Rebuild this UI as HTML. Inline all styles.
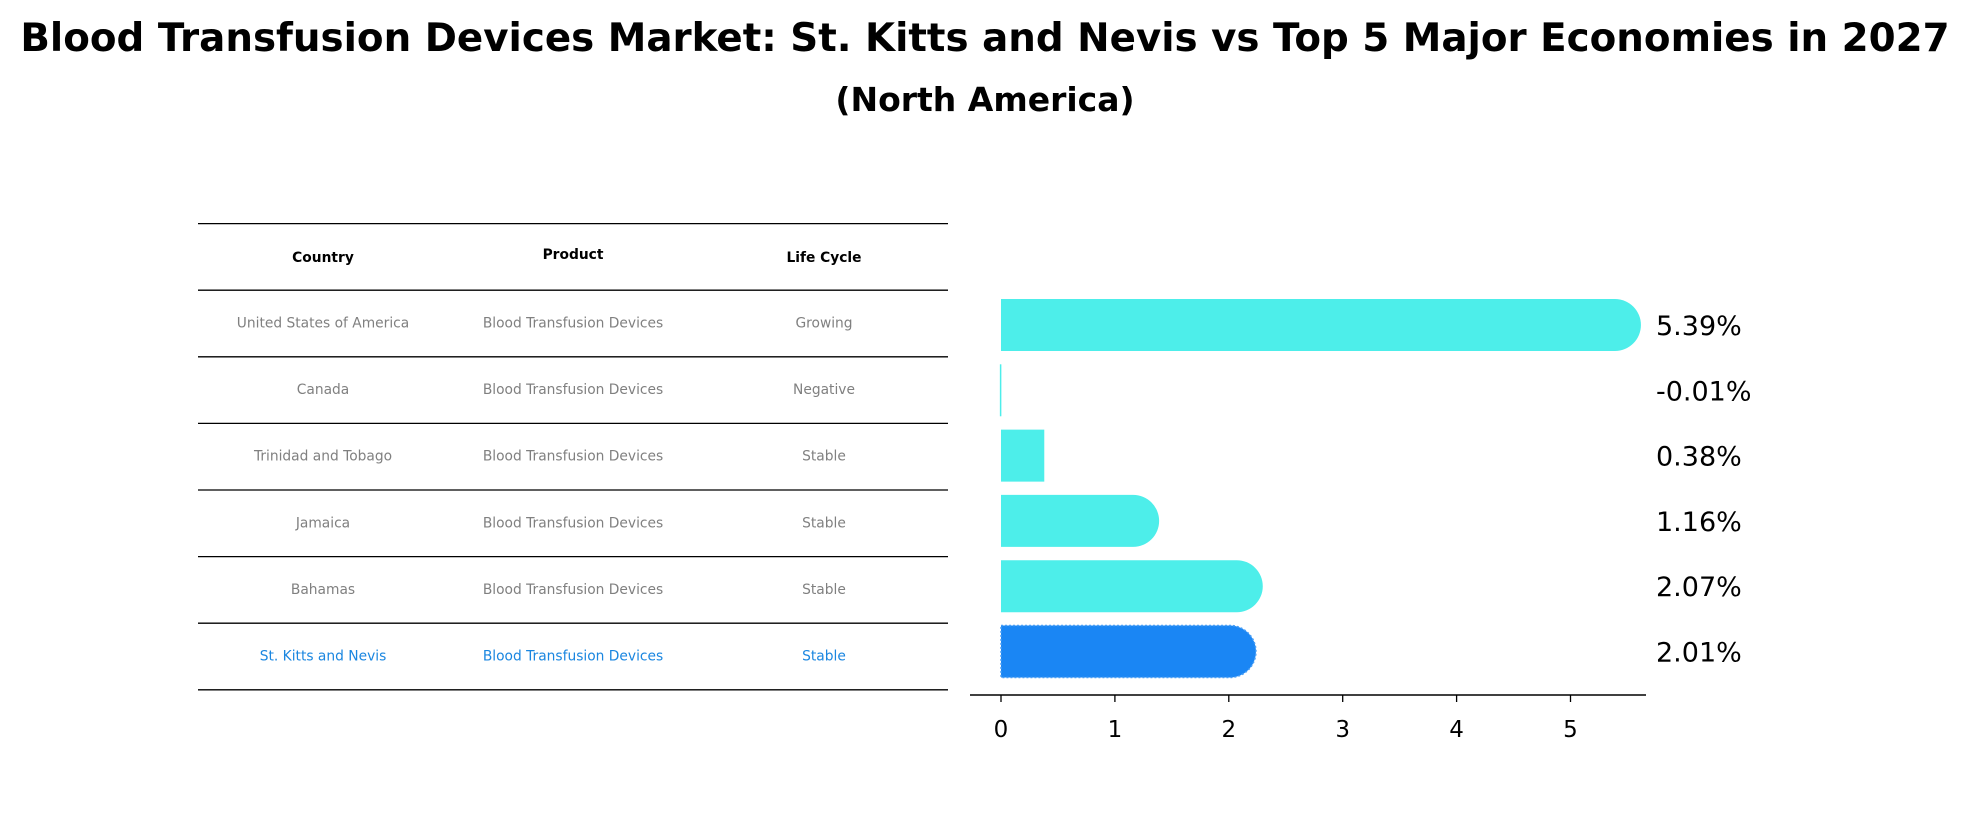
<!DOCTYPE html>
<html><head><meta charset="utf-8"><style>
body{margin:0;background:#fff;font-family:"Liberation Sans","DejaVu Sans",sans-serif}
svg text{font-family:"DejaVu Sans","Liberation Sans",sans-serif}
</style></head><body>
<svg id="c" width="1970" height="823" xmlns="http://www.w3.org/2000/svg">
<text x="985" y="51" text-anchor="middle" font-size="38.8" font-weight="bold">Blood Transfusion Devices Market: St. Kitts and Nevis vs Top 5 Major Economies in 2027</text>
<text x="985" y="111" text-anchor="middle" font-size="33" font-weight="bold">(North America)</text>
<g id="table"></g>
<g id="bars"></g>
</svg>
<script>
const countries=["United States of America","Canada","Trinidad and Tobago","Jamaica","Bahamas","St. Kitts and Nevis"];
const products=["Blood Transfusion Devices","Blood Transfusion Devices","Blood Transfusion Devices","Blood Transfusion Devices","Blood Transfusion Devices","Blood Transfusion Devices"];
const lifeCycles=["Growing","Negative","Stable","Stable","Stable","Stable"];
const values=[5.39,-0.01,0.38,1.16,2.07,2.01];
const valueLabels=["5.39%","-0.01%","0.38%","1.16%","2.07%","2.01%"];
const ticks=[0,1,2,3,4,5];
const NS="http://www.w3.org/2000/svg";
function mk(t,a,p){const e=document.createElementNS(NS,t);for(const k in a)e.setAttribute(k,a[k]);p.appendChild(e);return e;}
const tb=document.getElementById('table'),bg=document.getElementById('bars');
// table
const rowH=66.6,top0=223.6,xl=198,xr=948,cols=[323,573,824];
for(let i=0;i<=7;i++){const l=mk('line',{x1:xl,x2:xr,y1:top0+i*rowH,y2:top0+i*rowH,stroke:'#000','stroke-width':1.3},tb);

}
["Country","Product","Life Cycle"].forEach((h,j)=>{const t=mk('text',{x:cols[j],y:top0+rowH/2+5-(j==1?3:0),'text-anchor':'middle','font-size':13.8,'font-weight':'bold'},tb);t.textContent=h;

});
countries.forEach((c,i)=>{const y=top0+(i+1.5)*rowH+4;const col=i==5?'#1a86e0':'#808080';
[c,products[i],lifeCycles[i]].forEach((v,j)=>{const t=mk('text',{x:cols[j],y:y,'text-anchor':'middle','font-size':13.8,fill:col},tb);t.textContent=v;

});});
// bars
const x0=1001,unit=113.9,X=v=>x0+v*unit,bTop=299,pitch=65.3,bh=52;
values.forEach((v,i)=>{const y=bTop+i*pitch;const xe=X(v);const w=Math.max(xe-x0,1);const c=i==5?'#1a86f4':'#4deeea';
let d;
if(w>bh){d=`M${x0},${y}H${xe}A${bh/2},${bh/2} 0 0 1 ${xe},${y+bh}H${x0}Z`;}else{d=`M${Math.min(x0,xe)},${y}h${Math.max(w,1.5)}v${bh}h${-Math.max(w,1.5)}Z`;}
const p=mk('path',{d:d,fill:c},bg);
if(i==5){p.setAttribute('stroke','#4a9ff5');p.setAttribute('stroke-dasharray','2 2');p.setAttribute('stroke-width','1.5');}


const t=mk('text',{x:1656,y:y+bh/2+10,'font-size':27},bg);t.textContent=valueLabels[i];

});
const ax=mk('line',{x1:970,x2:1646,y1:695,y2:695,stroke:'#000','stroke-width':1.6},bg);


ticks.forEach(v=>{const tk=mk('line',{x1:X(v),x2:X(v),y1:695,y2:702,stroke:'#000','stroke-width':1.3},bg);


const t=mk('text',{x:X(v),y:737,'text-anchor':'middle','font-size':23},bg);t.textContent=v;

});
</script>
</body></html>
